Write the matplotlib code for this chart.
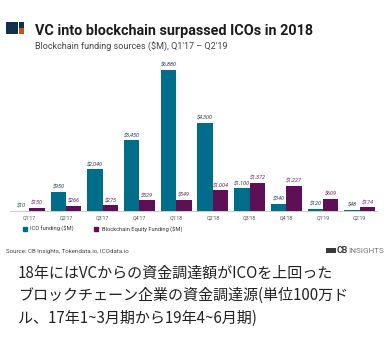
import matplotlib
matplotlib.use('Agg')
import matplotlib.pyplot as plt
import numpy as np
from matplotlib.patches import Rectangle
from matplotlib.lines import Line2D

quarters = ["Q1'17","Q2'17","Q3'17","Q4'17","Q1'18","Q2'18","Q3'18","Q4'18","Q1'19","Q2'19"]
ico = [10, 950, 2040, 3450, 6880, 4300, 1100, 340, 120, 48]
equity = [150, 266, 275, 529, 549, 1004, 1372, 1227, 609, 174]
ico_labels = ["$10","$950","$2,040","$3,450","$6,880","$4,300","$1,100","$340","$120","$48"]
equity_labels = ["$150","$266","$275","$529","$549","$1,004","$1,372","$1,227","$609","$174"]

W, H = 392, 350
TEAL, PLUM = '#006d8a', '#5e0f56'
SANS = ['Roboto', 'DejaVu Sans']
JP = ['Noto Sans CJK JP', 'DejaVu Sans']

fig = plt.figure(figsize=(W/100, H/100), dpi=100, facecolor='white')
ax = fig.add_axes([10/W, 1-211/H, 367/W, 151/H])
x = np.arange(len(quarters))
bw = 0.42
ax.bar(x-bw/2, ico, bw, color=TEAL)
ax.bar(x+bw/2, equity, bw, color=PLUM)
ax.set_xlim(-0.526, 9.47)
ax.set_ylim(0, 7368)
ax.set_yticks([])
for s in ['top','left','right']:
    ax.spines[s].set_visible(False)
ax.spines['bottom'].set_color('#c4c4c4')
ax.spines['bottom'].set_linewidth(0.6)
ax.set_xticks(x, quarters, fontsize=3.8, color='#555555', family=SANS)
ax.tick_params(axis='x', length=0, pad=3.5)
for i in x:
    ax.annotate(ico_labels[i], (i-bw/2, ico[i]), xytext=(0, 1.5), textcoords='offset points',
                ha='center', va='bottom', fontsize=4.0, color='#24435a', style='italic', family=SANS)
    ax.annotate(equity_labels[i], (i+bw/2, equity[i]), xytext=(0, 1.5), textcoords='offset points',
                ha='center', va='bottom', fontsize=4.0, color='#6a2a66', style='italic', family=SANS)

handles = [Line2D([], [], ls='', marker='s', ms=2.6, color=TEAL, label='ICO funding ($M)'),
           Line2D([], [], ls='', marker='s', ms=2.6, color=PLUM, label='Blockchain Equity Funding ($M)')]
fig.legend(handles=handles, loc='center left', bbox_to_anchor=(20/W, 1-229/H), ncol=2, frameon=False,
           prop={'family': SANS, 'size': 4.15}, labelcolor='#333333', handlelength=1.7, handletextpad=0.1,
           columnspacing=3.0, borderpad=0, borderaxespad=0)

# header
fig.text(35/W, 1-35/H, 'VC into blockchain surpassed ICOs in 2018', fontsize=10.4, fontweight='bold',
         color='#1b1b1b', family=SANS, va='baseline')
fig.text(35/W, 1-50/H, "Blockchain funding sources ($M), Q1'17 – Q2'19", fontsize=6.5,
         color='#444444', family=SANS, va='baseline')
for (px, py, pw, ph, c) in [(6, 22, 12, 12, '#12304e'), (18.8, 22, 5.2, 5.5, '#12304e'), (18.8, 28.3, 5.2, 5.7, '#c9501c')]:
    fig.add_artist(Rectangle((px/W, 1-(py+ph)/H), pw/W, ph/H, transform=fig.transFigure, color=c, lw=0))

# footer
fig.text(6/W, 1-253/H, 'Source: CB Insights, Tokendata.io, ICOdata.io', fontsize=4.4, color='#444444',
         family=SANS, va='baseline')
fig.text(337/W, 1-253/H, 'CB', fontsize=6.3, fontweight='bold', color='#3a3a3a', family=SANS, va='baseline')
fig.text(348.5/W, 1-253/H, 'INSIGHTS', fontsize=5.9, color='#777777', family=SANS, va='baseline')
fig.add_artist(Rectangle((326/W, 1-253/H), 9.5/W, 5.5/H, transform=fig.transFigure, color='#3a3a3a', lw=0))

for yb, line in [(277.5, '18年にはVCからの資金調達額がICOを上回った'),
                 (299.5, 'ブロックチェーン企業の資金調達源(単位100万ド'),
                 (322.5, 'ル、17年1~3月期から19年4~6月期)')]:
    fig.text(18/W, 1-yb/H, line, fontsize=10.85, color='#222222', family=JP, va='baseline')

fig.savefig('out.png', dpi=100, facecolor='white')
